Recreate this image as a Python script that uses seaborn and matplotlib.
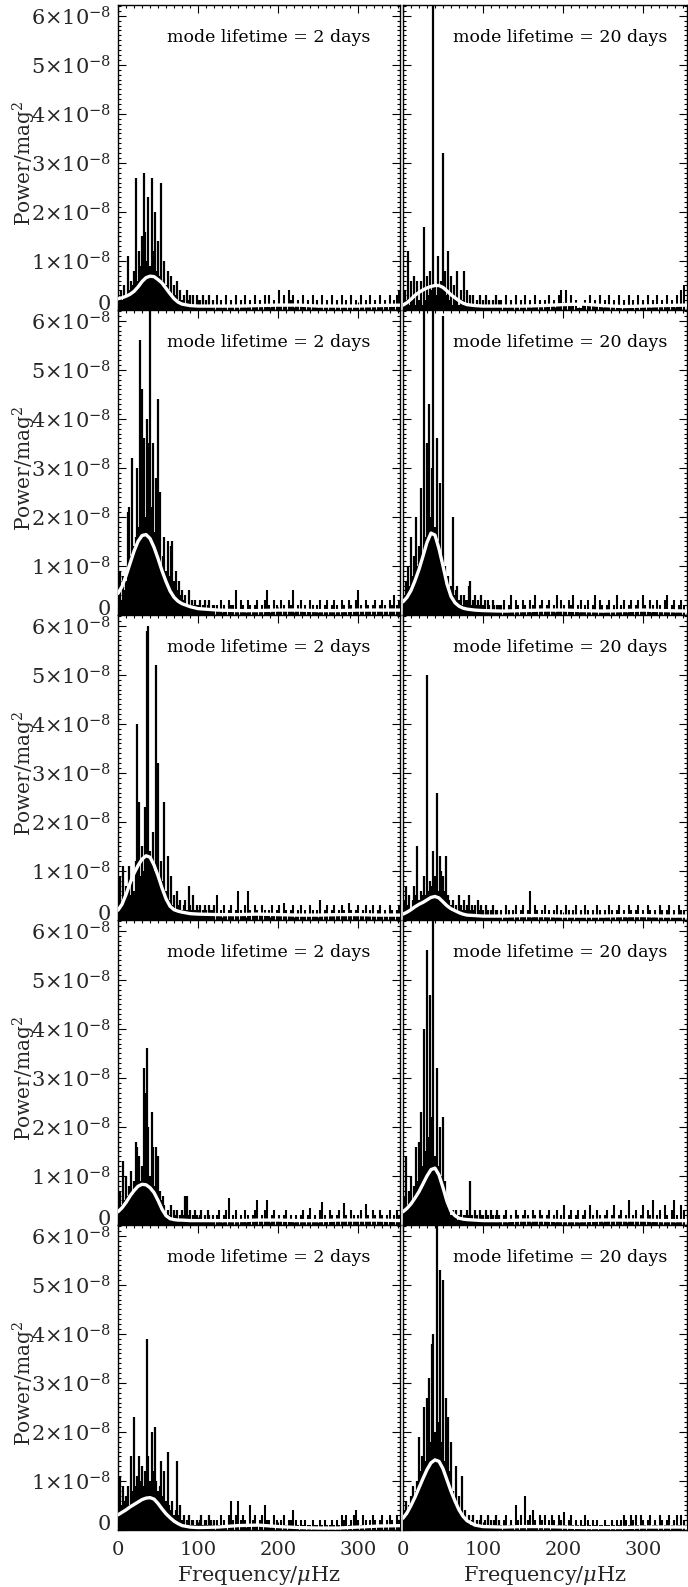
import numpy as np
import matplotlib
matplotlib.use("Agg")
import matplotlib.pyplot as plt
import seaborn as sns
from matplotlib.ticker import MultipleLocator, FixedLocator

# ---------------- data ----------------
# frequency grids (microHz)
FREQ_LO = list(range(0, 121, 2))      # 61 bins, peak region
FREQ_HI = list(range(123, 352, 3))    # 77 bins, noise region
ENV_FREQ = [0, 5, 10, 15, 20, 25, 30, 35, 40, 45, 50, 55, 60, 65, 70, 75, 80,
            90, 100, 125, 150, 175, 200, 225, 250, 275, 300, 325, 355]

LIFETIMES = ["2 days", "20 days"]
Y_TICKS = [0, 1, 2, 3, 4, 5, 6]   # x 1e-8
Y_TICK_LABELS = ["0", r"$1{\times}10^{-8}$", r"$2{\times}10^{-8}$", r"$3{\times}10^{-8}$",
                 r"$4{\times}10^{-8}$", r"$5{\times}10^{-8}$", r"$6{\times}10^{-8}$"]
X_TICKS = [0, 100, 200, 300]
X_TICK_LABELS = ["0", "100", "200", "300"]

# power spectra, units of 1e-9 mag^2
P1L_LO = [3, 2, 4, 2, 5, 3, 11, 4, 6, 5,
          8, 27, 6, 12, 9, 15, 28, 16, 10, 23,
          9, 27, 12, 20, 8, 14, 7, 26, 6, 10,
          5, 8, 4, 7, 3, 5, 3, 6, 2, 4,
          2, 3, 1, 4, 2, 3, 1, 3, 1, 3,
          2, 2, 1, 3, 1, 2, 1, 3, 1, 2,
          1]
P1L_HI = [3, 1, 2, 1, 3, 1, 2, 1, 3, 1, 2,
          1, 3, 1, 2, 1, 3, 1, 2, 1, 3, 1,
          3, 1, 2, 1, 4, 1, 3, 1, 4, 2, 3,
          1, 2, 1, 3, 1, 2, 1, 3, 1, 2, 1,
          3, 1, 2, 1, 3, 1, 2, 1, 3, 1, 2,
          1, 3, 1, 2, 1, 3, 1, 2, 1, 3, 1,
          2, 1, 3, 1, 2, 1, 3, 1, 2, 3, 4]
P1R_LO = [1, 4, 2, 12, 1, 6, 2, 7, 1, 6,
          2, 6, 1, 17, 2, 7, 3, 8, 4, 70,
          5, 3, 11, 5, 6, 32, 8, 3, 12, 2,
          7, 1, 5, 2, 8, 1, 4, 2, 8, 1,
          4, 1, 3, 1, 3, 1, 2, 1, 3, 1,
          2, 1, 3, 1, 2, 1, 2, 1, 3, 1,
          2]
P1R_HI = [2, 1, 3, 1, 2, 1, 3, 1, 2, 1, 3,
          1, 2, 1, 3, 1, 2, 1, 2, 1, 3, 1,
          2, 1, 3, 4, 1, 4, 1, 3, 1, 2, 0.5,
          0.5, 1, 2, 1, 3, 1, 2, 1, 3, 1, 2,
          1, 3, 1, 2, 1, 3, 1, 2, 1, 3, 1,
          2, 1, 3, 1, 2, 1, 3, 1, 2, 1, 3,
          1, 2, 1, 3, 1, 2, 1, 3, 1, 4, 5]
P2L_LO = [4, 9, 3, 8, 5, 7, 21, 22, 12, 32,
          14, 16, 30, 18, 56, 46, 36, 20, 40, 35,
          66, 22, 35, 17, 28, 44, 25, 10, 12, 16,
          9, 15, 8, 14, 15, 7, 9, 5, 7, 4,
          5, 3, 4, 2, 5, 2, 3, 2, 3, 2,
          2, 3, 1, 2, 3, 1, 2, 3, 1, 2,
          2]
P2L_HI = [2, 1, 3, 2, 1, 3, 2, 2, 5, 1, 3,
          2, 1, 3, 2, 1, 2, 3, 1, 2, 3, 5,
          2, 1, 3, 2, 1, 3, 2, 1, 3, 2, 5,
          1, 2, 3, 1, 2, 1, 3, 2, 1, 2, 3,
          1, 2, 3, 1, 2, 3, 2, 1, 3, 2, 1,
          3, 2, 1, 3, 5, 2, 1, 3, 2, 1, 2,
          3, 1, 2, 3, 2, 1, 3, 2, 4, 2, 3]
P2R_LO = [3, 4, 7, 10, 6, 16, 8, 12, 20, 10,
          14, 26, 12, 70, 16, 35, 43, 20, 30, 70,
          18, 36, 15, 27, 12, 61, 10, 8, 8, 5,
          6, 20, 4, 5, 6, 3, 4, 2, 4, 3,
          3, 6, 7, 2, 3, 4, 2, 3, 2, 4,
          2, 3, 1, 3, 2, 1, 3, 2, 1, 2,
          2]
P2R_HI = [2, 3, 1, 2, 4, 1, 3, 2, 1, 3, 2,
          1, 3, 2, 4, 1, 2, 3, 1, 2, 3, 1,
          2, 4, 1, 3, 2, 1, 3, 2, 4, 1, 2,
          3, 1, 2, 3, 1, 2, 4, 1, 3, 2, 1,
          2, 3, 1, 2, 4, 1, 2, 3, 1, 2, 3,
          1, 2, 3, 1, 4, 2, 1, 3, 2, 1, 3,
          2, 1, 3, 4, 1, 2, 3, 1, 2, 3, 2]
P3L_LO = [4, 9, 3, 11, 4, 7, 6, 11, 5, 8,
          6, 12, 40, 24, 9, 15, 10, 23, 59, 60,
          14, 12, 18, 10, 52, 32, 9, 12, 8, 24,
          6, 13, 4, 9, 3, 5, 2, 6, 3, 4,
          2, 3, 4, 2, 7, 3, 2, 5, 2, 3,
          2, 3, 1, 2, 3, 2, 1, 3, 2, 2,
          3]
P3L_HI = [5, 1, 2, 3, 1, 2, 3, 1, 2, 6, 2,
          1, 3, 6, 2, 1, 3, 2, 1, 3, 2, 1,
          2, 3, 1, 2, 3, 1, 3.5, 2, 1, 2, 3,
          1, 2, 3, 1, 2, 1, 3, 2, 1, 2, 4,
          1, 2, 3, 1, 2, 3, 1, 2, 3, 2, 1,
          3.5, 2, 1, 2, 3, 1, 2, 3, 1, 2, 3,
          1, 2, 3, 1, 2, 1, 3, 2, 1, 2, 3]
P3R_LO = [2, 4, 7, 3, 5, 2, 4, 7, 5, 15,
          4, 6, 5, 9, 5, 50, 6, 8, 7, 14,
          9, 26, 6, 13, 10, 9, 6, 13, 5, 4,
          3, 4, 2, 3, 2, 5, 3, 2, 4, 2,
          3, 5, 2, 3, 2, 3, 1, 4, 2, 3,
          2, 1, 3, 2, 1, 2, 3, 1, 2, 2,
          1]
P3R_HI = [2, 1, 3, 2, 1, 2, 3, 1, 2, 3, 1,
          2, 6, 1, 3, 2, 1, 2, 3, 1, 2, 1,
          2, 3, 1, 2, 1, 3, 2, 1, 2, 3, 1,
          2, 1, 3, 2, 1, 2, 1, 3, 2, 1, 2,
          1, 3, 2, 1, 2, 3, 1, 2, 1, 3, 2,
          1, 2, 3, 1, 2, 1, 3, 2, 1, 2, 1,
          3, 2, 1, 2, 3, 1, 2, 1, 3, 2, 2]
P4L_LO = [3, 7, 4, 13, 5, 10, 6, 8, 11, 7,
          9, 17, 16, 14, 9, 12, 32, 27, 36, 20,
          10, 23, 16, 8, 16, 14, 7, 5, 6, 4,
          2, 3, 2, 4, 1, 3, 2, 3, 1, 2,
          3, 2, 6, 6, 2, 3, 1, 2, 3, 2,
          1, 2, 3, 1, 2, 1, 3, 2, 1, 2,
          1]
P4L_HI = [2, 3, 1, 2, 3, 5.5, 1, 2, 3, 1, 2,
          1, 3, 2, 1, 2, 3, 5, 1, 2, 3, 5,
          1, 2, 3, 1, 2, 1, 2, 3, 1, 2, 1,
          2, 1, 2, 3, 1, 2, 3.5, 1, 2, 1, 3,
          4.6, 2, 1, 3, 2, 1, 2, 3, 1, 4.4, 2,
          1, 3, 2, 1, 2, 3, 1, 4.2, 2, 1, 3,
          2, 1, 3, 2, 1, 2, 3, 1, 2, 3, 2]
P4R_LO = [3, 6, 14, 4, 7, 10, 5, 8, 16, 9,
          17, 23, 12, 40, 15, 56, 18, 47, 22, 68,
          14, 32, 12, 20, 10, 22, 9, 6, 4, 4,
          2, 3, 2, 3, 1, 2, 3, 1, 2, 2,
          3, 2, 9, 2, 1, 3, 2, 1, 3, 2,
          2, 1, 3, 2, 1, 3, 2, 1, 2, 3,
          2]
P4R_HI = [1, 2, 3, 1, 2, 1, 3, 2, 1, 2, 3,
          2, 1, 3, 2, 1, 3, 2, 1, 2, 3, 1,
          2, 3, 1, 2, 4, 1, 2, 3, 1, 2, 3,
          1, 2, 3, 1, 4, 2, 1, 3, 2, 1, 2,
          3, 1, 2, 4, 1, 2, 3, 1, 2, 5, 1,
          2, 3, 1, 2, 4, 1, 3, 2, 5, 1, 2,
          3, 1, 4, 2, 1, 3, 5, 2, 1, 4, 3]
P5L_LO = [7, 11, 5, 9, 6, 7, 9, 5, 15, 8,
          23, 9, 11, 15, 10, 13, 9, 12, 39, 15,
          10, 20, 12, 21, 10, 8, 9, 14, 7, 12,
          6, 16, 5, 4, 6, 3, 4, 14, 3, 5,
          2, 3, 1, 2, 3, 1, 2, 2, 1, 2,
          1, 2, 3, 1, 2, 2, 1, 3, 2, 1,
          2]
P5L_HI = [2, 1, 3, 2, 1, 3, 6, 2, 3, 6, 2,
          3, 2, 1, 5, 2, 3, 1, 2, 3, 5, 2,
          2, 1, 3, 2, 1, 2, 3, 1, 2, 2, 4,
          2, 1, 2, 1, 2, 1, 1, 2, 1, 1, 2,
          1, 2, 1, 1, 2, 1, 2, 1, 3, 2, 3,
          1, 2, 3, 4, 2, 1, 3, 2, 1, 2, 3,
          2, 1, 2, 3, 1, 2, 3, 2, 1, 3, 2]
P5R_LO = [3, 4, 6, 3, 5, 7, 9, 6, 8, 10,
          19, 12, 15, 25, 14, 27, 31, 18, 38, 40,
          20, 68, 22, 53, 18, 51, 14, 27, 23, 12,
          18, 8, 6, 13, 5, 7, 4, 11, 3, 4,
          2, 3, 1, 2, 3, 1, 2, 1, 2, 3,
          1, 2, 1, 3, 1, 2, 1, 2, 3, 1,
          2]
P5R_HI = [1, 2, 3, 1, 2, 1, 5, 2, 3, 1, 7,
          2, 3, 4, 2, 1, 3, 2, 3, 1, 2, 3,
          2, 1, 3, 2, 3.6, 1, 2, 3, 1, 2, 1,
          2, 1, 3, 2, 1, 2, 1, 2, 1, 1, 2,
          1, 1, 2, 1, 2, 1, 2, 3, 2, 1, 3,
          2, 3, 1, 3, 2, 1, 2, 3, 1, 2, 1,
          3, 2, 1, 2, 3, 1, 2, 3, 1, 3, 2]

# smooth envelope fits (white curves), units of 1e-9 mag^2
ENV_1L = [2.3, 2.5, 2.8, 3.2, 3.8, 4.7, 5.8, 6.6, 6.9, 6.8, 6.2, 5.5, 4.4, 3.3, 2.3, 1.6, 1.2,
          0.9, 0.8, 0.8, 0.8, 0.9, 1.0, 1.0, 0.8, 0.8, 0.8, 0.9, 1.0]
ENV_1R = [1.0, 1.5, 2.2, 3.0, 3.6, 4.1, 4.5, 4.8, 5.0, 5.0, 4.6, 3.9, 3.1, 2.5, 1.9, 1.4, 1.1,
          0.9, 0.8, 0.8, 0.8, 0.9, 1.1, 1.2, 0.9, 0.7, 0.8, 0.9, 1.0]
ENV_2L = [4.4, 5.8, 8.0, 10.5, 13.0, 15.0, 16.2, 16.4, 15.6, 13.8, 11.5, 9.0, 6.8, 4.9, 3.6, 2.8, 2.3,
          1.7, 1.3, 1.0, 0.9, 0.9, 1.0, 1.0, 0.9, 0.9, 1.0, 1.0, 1.0]
ENV_2R = [2.7, 3.6, 5.0, 7.0, 9.3, 12.0, 14.8, 16.7, 16.3, 13.5, 10.0, 6.3, 3.8, 2.5, 1.8, 1.4, 1.2,
          1.0, 0.9, 0.8, 0.9, 1.0, 1.0, 0.9, 0.8, 0.9, 1.0, 0.9, 0.8]
ENV_3L = [2.0, 3.2, 5.2, 7.5, 9.5, 11.1, 12.4, 13.1, 12.8, 11.2, 9.0, 6.5, 4.3, 2.8, 2.1, 1.8, 1.6,
          1.3, 1.2, 1.1, 1.1, 1.2, 1.1, 1.0, 1.0, 1.1, 1.1, 1.0, 1.0]
ENV_3R = [1.2, 1.6, 2.1, 2.7, 3.2, 3.6, 4.1, 4.6, 4.8, 4.5, 3.7, 2.9, 2.3, 1.9, 1.5, 1.2, 1.0,
          0.9, 0.8, 0.8, 0.9, 0.9, 0.8, 0.8, 0.8, 0.9, 0.9, 0.8, 0.8]
ENV_4L = [2.7, 3.5, 4.6, 5.9, 7.0, 7.9, 8.3, 8.2, 7.6, 6.6, 5.0, 3.2, 1.9, 1.3, 1.1, 1.0, 1.0,
          0.9, 0.9, 0.9, 0.9, 1.0, 1.0, 0.9, 0.9, 1.0, 1.0, 1.0, 0.9]
ENV_4R = [2.7, 3.4, 4.3, 5.5, 6.8, 8.4, 10.0, 11.3, 11.6, 10.2, 7.6, 4.8, 2.8, 1.9, 1.4, 1.2, 1.1,
          1.0, 0.9, 0.9, 1.0, 1.0, 0.9, 0.9, 1.0, 1.0, 1.0, 0.9, 0.9]
ENV_5L = [3.1, 3.6, 4.1, 4.7, 5.2, 5.7, 6.2, 6.5, 6.6, 6.3, 5.4, 4.3, 3.3, 2.5, 1.8, 1.3, 0.9,
          0.6, 0.5, 0.6, 0.9, 1.0, 0.7, 0.5, 0.4, 0.4, 0.6, 0.8, 0.9]
ENV_5R = [2.4, 3.5, 5.0, 6.7, 8.6, 10.5, 12.3, 13.7, 14.3, 14.0, 12.5, 10.2, 7.9, 5.9, 4.1, 2.8, 1.9,
          1.0, 0.7, 0.6, 0.7, 0.7, 0.6, 0.5, 0.5, 0.5, 0.6, 0.6, 0.6]

PANELS = [
    [(P1L_LO, P1L_HI, ENV_1L), (P1R_LO, P1R_HI, ENV_1R)],
    [(P2L_LO, P2L_HI, ENV_2L), (P2R_LO, P2R_HI, ENV_2R)],
    [(P3L_LO, P3L_HI, ENV_3L), (P3R_LO, P3R_HI, ENV_3R)],
    [(P4L_LO, P4L_HI, ENV_4L), (P4R_LO, P4R_HI, ENV_4R)],
    [(P5L_LO, P5L_HI, ENV_5L), (P5R_LO, P5R_HI, ENV_5R)],
]

# ---------------- style ----------------
sns.set_theme(style="ticks")
plt.rcParams['font.family'] = ['DejaVu Serif']
plt.rcParams['mathtext.fontset'] = 'dejavuserif'

W_PX, H_PX = 688, 1587
fig = plt.figure(figsize=(W_PX / 100, H_PX / 100), dpi=100)
fig.patch.set_facecolor('white')

ROW_TOP, ROW_H = 5, 305
COL_X0 = [118, 403]
COL_W = [282, 284]
XMAX = [352, 355]
YMAX = 6.22e-8

for r in range(5):
    for c in range(2):
        lo, hi, env = PANELS[r][c]
        assert len(lo) == len(FREQ_LO) and len(hi) == len(FREQ_HI) and len(env) == len(ENV_FREQ)
        ax = fig.add_axes([COL_X0[c] / W_PX,
                           (H_PX - (ROW_TOP + ROW_H * (r + 1))) / H_PX,
                           COL_W[c] / W_PX, ROW_H / H_PX])
        ax.set_facecolor('white')
        ax.vlines(FREQ_LO, 0, np.array(lo) * 1e-9, color='black', linewidth=1.6, zorder=2)
        ax.vlines(FREQ_HI, 0, np.array(hi) * 1e-9, color='black', linewidth=1.5, zorder=2)
        sns.lineplot(x=ENV_FREQ, y=np.array(env) * 1e-9, ax=ax, color='white',
                     linewidth=2.4, zorder=3)
        ax.set_xlim(0, XMAX[c])
        ax.set_ylim(0, YMAX)

        ax.xaxis.set_major_locator(FixedLocator(X_TICKS))
        ax.xaxis.set_minor_locator(MultipleLocator(10))
        ax.yaxis.set_major_locator(FixedLocator([v * 1e-8 for v in Y_TICKS]))
        ax.yaxis.set_minor_locator(MultipleLocator(0.1e-8))
        ax.tick_params(which='both', direction='in', top=True, right=True,
                       color='black', width=0.8)
        ax.tick_params(which='major', length=5.5)
        ax.tick_params(which='minor', length=2.5)
        for sp in ax.spines.values():
            sp.set_color('black')
            sp.set_linewidth(1.0)

        if c == 0:
            ax.set_yticklabels(Y_TICK_LABELS, fontsize=15)
            ax.tick_params(axis='y', pad=5)
            ax.set_ylabel(r'Power/mag$^2$', fontsize=14.5)
            ax.yaxis.set_label_coords(-0.283, 0.48)
            ax.get_yticklabels()[0].set_verticalalignment('baseline')
        else:
            ax.tick_params(labelleft=False)

        if r == 4:
            ax.set_xticklabels(X_TICK_LABELS, fontsize=14)
            ax.tick_params(axis='x', pad=8)
            ax.set_xlabel(r'Frequency/$\mu$Hz', fontsize=15)
            ax.xaxis.set_label_coords(0.5, -0.112)
        else:
            ax.tick_params(labelbottom=False)

        ax.text(0.175, 0.895, f"mode lifetime = {LIFETIMES[c]}", transform=ax.transAxes,
                fontsize=12.5, ha='left', va='center', color='black', zorder=5)
        ax.grid(False)

fig.savefig("out.png", dpi=100, facecolor='white')
